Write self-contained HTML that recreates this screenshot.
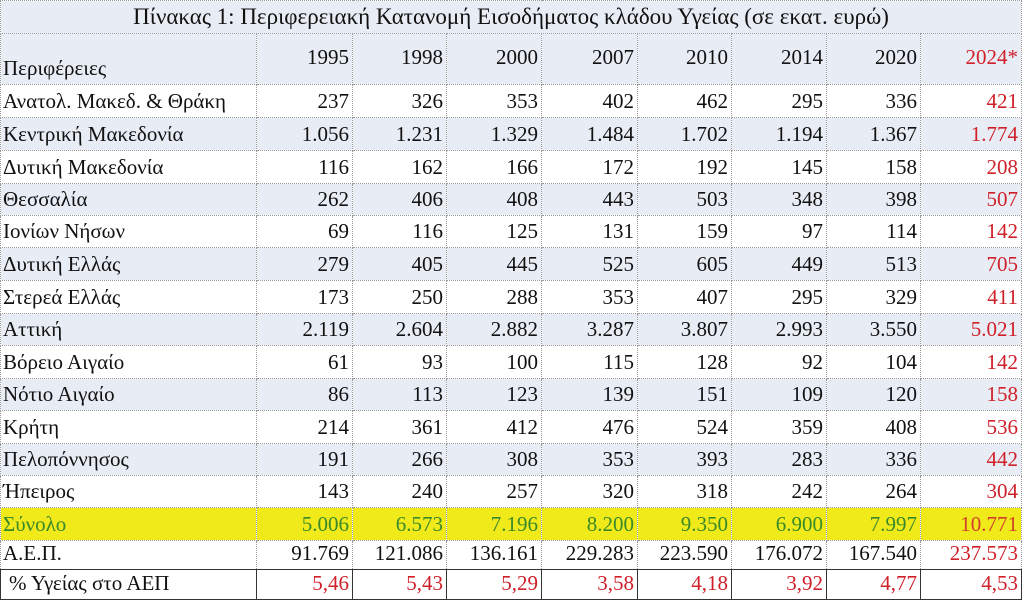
<!DOCTYPE html>
<html><head><meta charset="utf-8"><style>
body{margin:0;width:1024px;height:600px;background:#fff;overflow:hidden;font-family:"Liberation Serif",serif;}
table{position:absolute;left:0;top:0;border-collapse:collapse;table-layout:fixed;width:1021px;}
td{border:1px dotted #9a9a9a;font-size:21px;color:#111;padding:0 3px 3px 3px;vertical-align:bottom;text-align:right;white-space:nowrap;overflow:hidden;}
td:first-child{text-align:left;padding-left:2px;}
.b td{background:#e8edf5;}
.r td:last-child{color:#d0202a;}
tr.t td{text-align:center;font-size:23px;background:#e8edf5;vertical-align:middle;padding:0;}
tr.s td{background:#f1ea1a;color:#3a8a2a;}
tr.s td:last-child{color:#d0402a;}
tr.p td{color:#d0202a;border:1px solid #333;}
tr.p td:first-child{color:#111;padding-left:8px;}
</style></head><body>
<table>
<colgroup><col style="width:256px"><col style="width:96px"><col style="width:94px"><col style="width:95px"><col style="width:96px"><col style="width:94px"><col style="width:95px"><col style="width:94px"><col style="width:101px"></colgroup>
<tr class="t" style="height:33px"><td colspan="9">Πίνακας 1: Περιφερειακή Κατανομή Εισοδήματος κλάδου Υγείας (σε εκατ. ευρώ)</td></tr>
<tr class="b r" style="height:51px"><td>Περιφέρειες</td><td style="vertical-align:top;padding-top:11px">1995</td><td style="vertical-align:top;padding-top:11px">1998</td><td style="vertical-align:top;padding-top:11px">2000</td><td style="vertical-align:top;padding-top:11px">2007</td><td style="vertical-align:top;padding-top:11px">2010</td><td style="vertical-align:top;padding-top:11px">2014</td><td style="vertical-align:top;padding-top:11px">2020</td><td style="vertical-align:top;padding-top:11px">2024*</td></tr>
<tr class="r" style="height:33px"><td>Ανατολ. Μακεδ. &amp; Θράκη</td><td>237</td><td>326</td><td>353</td><td>402</td><td>462</td><td>295</td><td>336</td><td>421</td></tr>
<tr class="b r" style="height:33px"><td>Κεντρική Μακεδονία</td><td>1.056</td><td>1.231</td><td>1.329</td><td>1.484</td><td>1.702</td><td>1.194</td><td>1.367</td><td>1.774</td></tr>
<tr class="r" style="height:33px"><td>Δυτική Μακεδονία</td><td>116</td><td>162</td><td>166</td><td>172</td><td>192</td><td>145</td><td>158</td><td>208</td></tr>
<tr class="b r" style="height:32px"><td>Θεσσαλία</td><td>262</td><td>406</td><td>408</td><td>443</td><td>503</td><td>348</td><td>398</td><td>507</td></tr>
<tr class="r" style="height:32px"><td>Ιονίων Νήσων</td><td>69</td><td>116</td><td>125</td><td>131</td><td>159</td><td>97</td><td>114</td><td>142</td></tr>
<tr class="b r" style="height:33px"><td>Δυτική Ελλάς</td><td>279</td><td>405</td><td>445</td><td>525</td><td>605</td><td>449</td><td>513</td><td>705</td></tr>
<tr class="r" style="height:33px"><td>Στερεά Ελλάς</td><td>173</td><td>250</td><td>288</td><td>353</td><td>407</td><td>295</td><td>329</td><td>411</td></tr>
<tr class="b r" style="height:32px"><td>Αττική</td><td>2.119</td><td>2.604</td><td>2.882</td><td>3.287</td><td>3.807</td><td>2.993</td><td>3.550</td><td>5.021</td></tr>
<tr class="r" style="height:33px"><td>Βόρειο Αιγαίο</td><td>61</td><td>93</td><td>100</td><td>115</td><td>128</td><td>92</td><td>104</td><td>142</td></tr>
<tr class="b r" style="height:32px"><td>Νότιο Αιγαίο</td><td>86</td><td>113</td><td>123</td><td>139</td><td>151</td><td>109</td><td>120</td><td>158</td></tr>
<tr class="r" style="height:33px"><td>Κρήτη</td><td>214</td><td>361</td><td>412</td><td>476</td><td>524</td><td>359</td><td>408</td><td>536</td></tr>
<tr class="b r" style="height:32px"><td>Πελοπόννησος</td><td>191</td><td>266</td><td>308</td><td>353</td><td>393</td><td>283</td><td>336</td><td>442</td></tr>
<tr class="r" style="height:32px"><td>Ήπειρος</td><td>143</td><td>240</td><td>257</td><td>320</td><td>318</td><td>242</td><td>264</td><td>304</td></tr>
<tr class="s" style="height:33px"><td>Σύνολο</td><td>5.006</td><td>6.573</td><td>7.196</td><td>8.200</td><td>9.350</td><td>6.900</td><td>7.997</td><td>10.771</td></tr>
<tr class="r" style="height:27px"><td>Α.Ε.Π.</td><td>91.769</td><td>121.086</td><td>136.161</td><td>229.283</td><td>223.590</td><td>176.072</td><td>167.540</td><td>237.573</td></tr>
<tr class="p" style="height:30px"><td>% Υγείας στο ΑΕΠ</td><td>5,46</td><td>5,43</td><td>5,29</td><td>3,58</td><td>4,18</td><td>3,92</td><td>4,77</td><td>4,53</td></tr>
</table>
</body></html>
